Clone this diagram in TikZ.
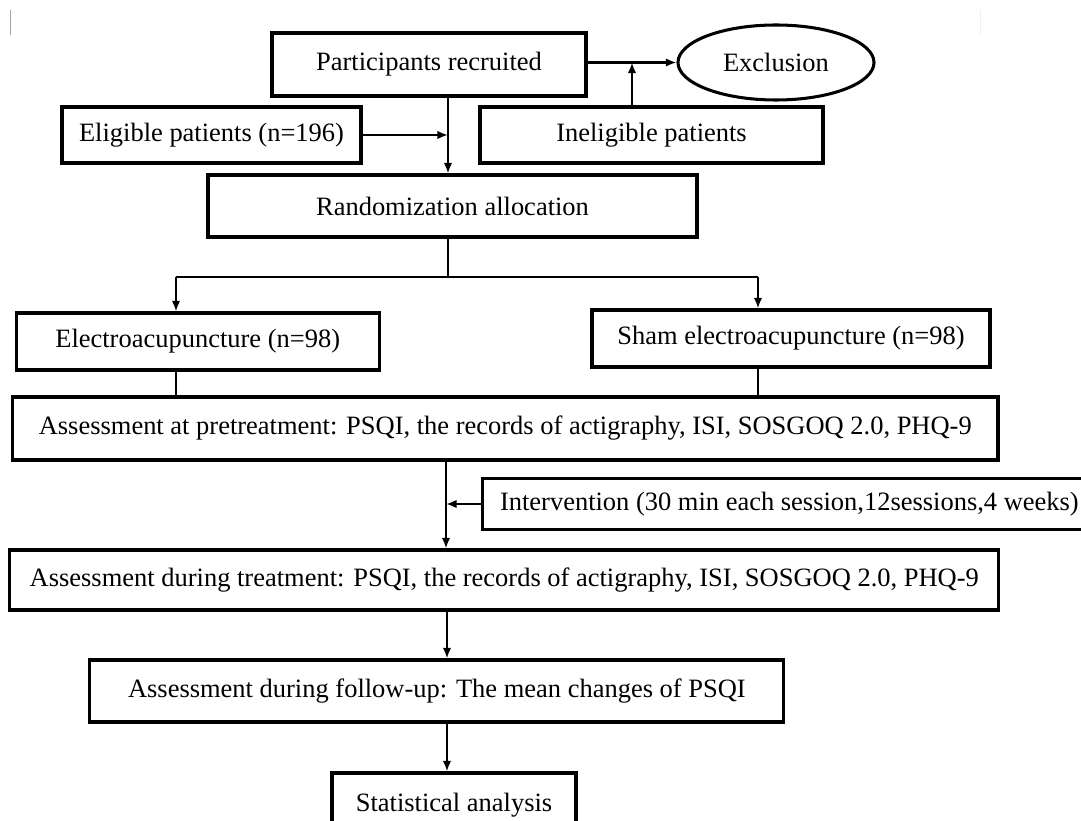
\documentclass[tikz,border=0pt]{standalone}
\usepackage{fontspec}
\setmainfont{Liberation Serif}
\usepackage{tikz}
\usetikzlibrary{arrows.meta,shapes.geometric}

\begin{document}
\begin{tikzpicture}[x=0.015cm,y=-0.015cm,
  box/.style={draw,line width=1.3pt,inner sep=0pt,font=\fontsize{11.3}{13.6}\selectfont},
  oval/.style={draw,ellipse,line width=1.3pt,inner sep=0pt,font=\fontsize{11.3}{13.6}\selectfont},
  link/.style={line width=0.9pt},
  arr/.style={line width=0.9pt,-{Latex[length=4.5pt,width=3.6pt]}}]
\clip (0,0) rectangle (1081,821);
\fill[white] (0,0) rectangle (1081,821);
\draw[black!35,line width=0.4pt] (10,10) -- (10,35);
\draw[black!6,line width=0.4pt] (980,10) -- (980,35);
%
\node[box,minimum width=4.71cm,minimum height=0.945cm] (recruit) at (429,64.5) {Participants recruited};
\node[oval,minimum width=2.94cm,minimum height=1.125cm] (excl) at (776,62.5) {Exclusion};
\node[box,minimum width=4.485cm,minimum height=0.84cm] (elig) at (211.5,135) {Eligible patients (n=196)};
\node[box,minimum width=5.145cm,minimum height=0.84cm] (inelig) at (651.5,135) {Ineligible patients};
\node[box,minimum width=7.335cm,minimum height=0.93cm] (rand) at (452.5,206) {Randomization allocation};
%
\node[box,minimum width=5.44cm,minimum height=0.855cm] (ea) at (197.7,341.5) {Electroacupuncture (n=98)};
\node[box,minimum width=5.97cm,minimum height=0.855cm] (sham) at (791,338.5) {Sham electroacupuncture (n=98)};
\node[box,minimum width=14.78cm,minimum height=0.945cm] (pre) at (505.3,428.5) {Assessment at pretreatment: PSQI, the records of actigraphy, ISI, SOSGOQ 2.0, PHQ-9};
\node[box,draw=none,anchor=west,inner xsep=0.24cm,minimum height=0.72cm] (interv) at (482.5,504) {Intervention (30 min each session,12sessions,4 weeks)};
\draw[line width=1.3pt] (interv.north west) rectangle ([xshift=0.6cm]interv.south east);
\node[box,minimum width=14.83cm,minimum height=0.9cm] (during) at (504.3,580) {Assessment during treatment: PSQI, the records of actigraphy, ISI, SOSGOQ 2.0, PHQ-9};
\node[box,minimum width=10.41cm,minimum height=0.93cm] (follow) at (436.9,691) {Assessment during follow-up: The mean changes of PSQI};
\node[box,minimum width=3.66cm,minimum height=0.96cm] (stat) at (454,805) {Statistical analysis};
%
\coordinate (trunk) at (448,0);
\coordinate (side) at (632,0);
\coordinate (split) at (448,277);
\coordinate (lbr) at (176,277);
\coordinate (rbr) at (758,277);
\coordinate (mid) at (446,0);
\coordinate (low) at (447,0);
%
\draw[arr] (recruit.south -| trunk) -- (rand.north -| trunk);
\draw[arr] (elig.east) -- (elig.east -| trunk);
\draw[arr] (recruit.east |- excl.west) -- (excl.west);
\draw[arr] (inelig.north -| side) -- (excl.west -| side);
\draw[link] (rand.south -| split) -- (split);
\draw[link] (lbr) -- (rbr);
\draw[arr] (lbr) -- (lbr |- ea.north);
\draw[arr] (rbr) -- (rbr |- sham.north);
\draw[link] (ea.south -| lbr) -- (pre.north -| lbr);
\draw[link] (sham.south -| rbr) -- (pre.north -| rbr);
\draw[arr] (pre.south -| mid) -- (during.north -| mid);
\draw[arr] (interv.west) -- (interv.west -| mid);
\draw[arr] (during.south -| low) -- (follow.north -| low);
\draw[arr] (follow.south -| low) -- (stat.north -| low);
\end{tikzpicture}
\end{document}
